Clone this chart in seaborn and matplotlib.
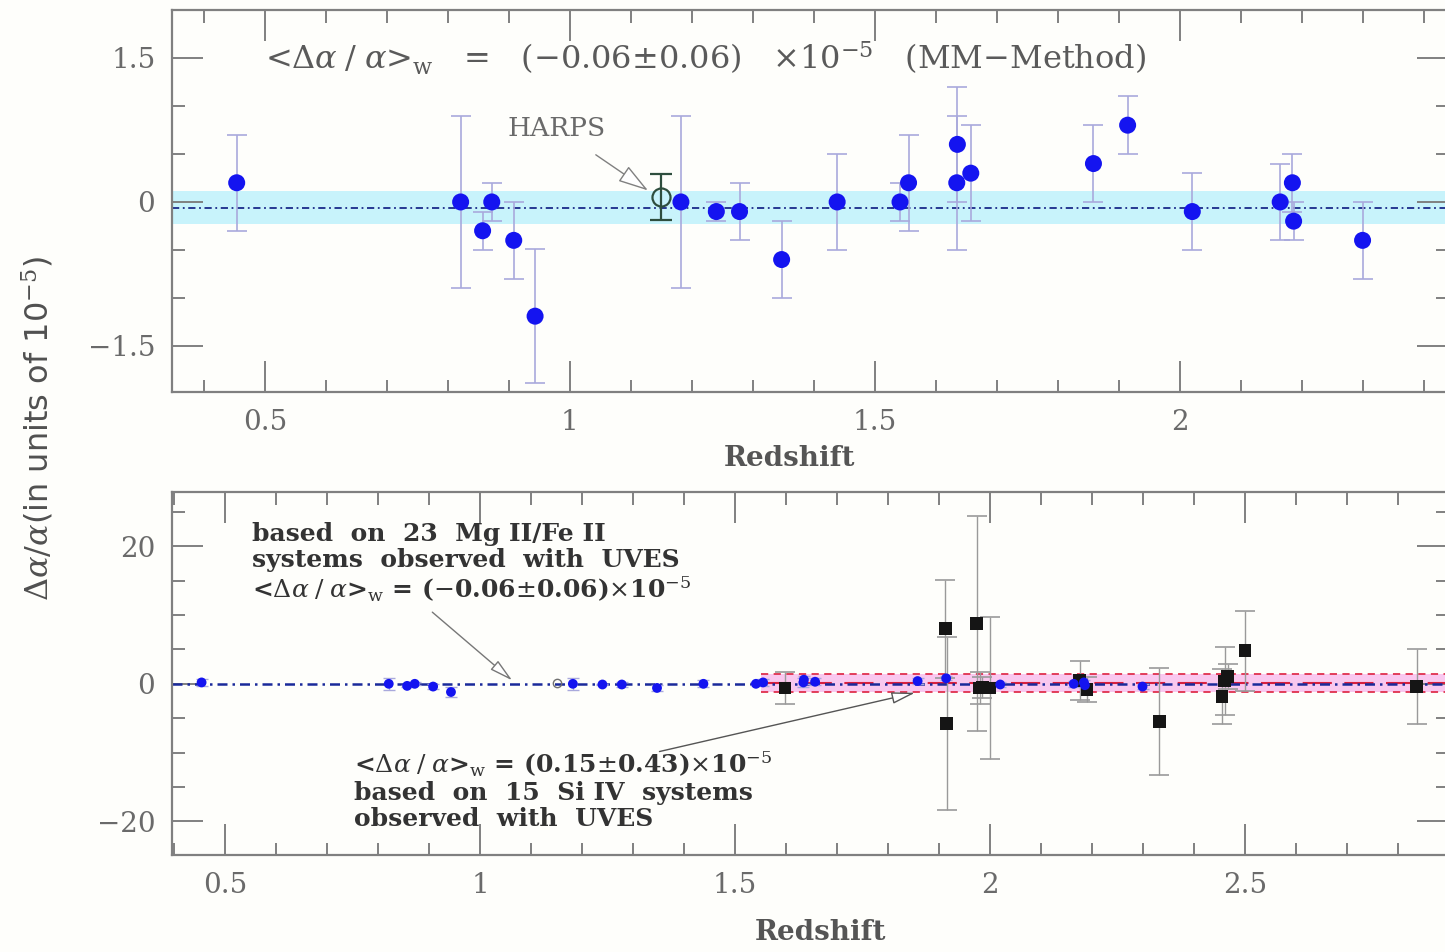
import matplotlib
matplotlib.use("Agg")
import matplotlib.pyplot as plt
from matplotlib.ticker import MultipleLocator, FixedLocator
import numpy as np
import pandas as pd
import seaborn as sns

# ---------------- data ----------------
# Mg II / Fe II systems (UVES, MM method)
z_mg = [0.454, 0.821, 0.857, 0.872, 0.908, 0.943, 1.182, 1.240, 1.278, 1.347,
        1.438, 1.541, 1.555, 1.634, 1.635, 1.657, 1.858, 1.914, 2.020, 2.164,
        2.184, 2.186, 2.299]
da_mg = [0.20, 0.00, -0.30, 0.00, -0.40, -1.19, 0.00, -0.10, -0.10, -0.60,
         0.00, 0.00, 0.20, 0.20, 0.60, 0.30, 0.40, 0.80, -0.10, 0.00,
         0.20, -0.20, -0.40]
err_mg = [0.50, 0.90, 0.20, 0.20, 0.40, 0.70, 0.90, 0.10, 0.30, 0.40,
          0.50, 0.20, 0.50, 0.70, 0.60, 0.50, 0.40, 0.30, 0.40, 0.40,
          0.30, 0.20, 0.40]

# HARPS point
z_harps = [1.150]
da_harps = [0.05]
err_harps = [0.24]

# Si IV systems (UVES, AD method)
z_si = [1.598, 1.912, 1.915, 1.974, 1.980, 1.985, 2.000, 2.176, 2.190, 2.332,
        2.455, 2.460, 2.466, 2.500, 2.837]
da_si = [-0.6, 8.0, -5.8, 8.8, -0.6, -0.5, -0.6, 0.5, -0.8, -5.5,
         -1.9, 0.4, 1.1, 4.8, -0.4]
err_si = [2.3, 7.1, 12.6, 15.6, 2.3, 1.5, 10.3, 2.8, 1.8, 7.8,
          4.0, 5.0, 1.8, 5.8, 5.4]

# weighted means
mean_mg, band_mg = -0.06, 0.17
mean_si, sig_si = 0.15, 0.43
z_si_band_start = 1.55

top_xticks = [0.5, 1, 1.5, 2]
top_xticklabels = ["0.5", "1", "1.5", "2"]
top_yticks = [-1.5, 0, 1.5]
top_yticklabels = ["\u22121.5", "0", "1.5"]
bot_xticks = [0.5, 1, 1.5, 2, 2.5]
bot_xticklabels = ["0.5", "1", "1.5", "2", "2.5"]
bot_yticks = [-20, 0, 20]
bot_yticklabels = ["\u221220", "0", "20"]

df_mg = pd.DataFrame({"z": z_mg, "da": da_mg, "err": err_mg})
df_si = pd.DataFrame({"z": z_si, "da": da_si, "err": err_si})
df_h = pd.DataFrame({"z": z_harps, "da": da_harps, "err": err_harps})

# ---------------- style ----------------
sns.set_theme(style="ticks")
plt.rcParams['font.family'] = ['DejaVu Serif']
plt.rcParams['mathtext.fontset'] = 'dejavuserif'

W, H = 1445, 952
fig = plt.figure(figsize=(W / 100, H / 100), dpi=100, facecolor="#fefefb")

def frac(x0, y0, x1, y1):
    return [x0 / W, 1 - y1 / H, (x1 - x0) / W, (y1 - y0) / H]

ax1 = fig.add_axes(frac(172, 10, 1448, 392))
ax2 = fig.add_axes(frac(172, 492, 1448, 855))

spine_c = "#808080"
tick_c = "#6a6a6a"
for ax in (ax1, ax2):
    ax.set_facecolor("#fefefb")
    for s in ax.spines.values():
        s.set_color(spine_c)
        s.set_linewidth(1.6)
    ax.tick_params(which="both", direction="in", top=True, right=True,
                   colors=spine_c, labelcolor=tick_c, labelsize=20, width=1.4)
    ax.tick_params(which="major", length=22, pad=12)
    ax.tick_params(which="minor", length=9)

# ---------------- top panel ----------------
ax1.set_xlim(0.348, 2.439)
ax1.set_ylim(-1.98, 2.0)
ax1.axhspan(mean_mg - band_mg, mean_mg + band_mg, color="#c8f3fb", zorder=0, lw=0)
ax1.axhline(mean_mg, color="#1a2a8a", lw=1.3, ls=(0, (4, 2, 1, 2)), zorder=1)

ax1.errorbar(df_mg["z"], df_mg["da"], yerr=df_mg["err"], fmt="none",
             ecolor="#a9a9dc", elinewidth=1.2, capsize=7, capthick=1.2, zorder=2)
sns.scatterplot(data=df_mg, x="z", y="da", ax=ax1, color="#1414f0", s=150,
                edgecolor="none", linewidth=0, zorder=4, legend=False)
ax1.errorbar(df_h["z"], df_h["da"], yerr=df_h["err"], fmt="o", mfc="none",
             mec="#2e4e3e", ms=13, mew=1.6, ecolor="#2e4e3e", elinewidth=1.6,
             capsize=8, capthick=1.6, zorder=5)

ax1.xaxis.set_major_locator(FixedLocator(top_xticks))
ax1.set_xticklabels(top_xticklabels)
ax1.xaxis.set_minor_locator(MultipleLocator(0.1))
ax1.yaxis.set_major_locator(FixedLocator(top_yticks))
ax1.set_yticklabels(top_yticklabels)
ax1.yaxis.set_minor_locator(MultipleLocator(0.5))
ax1.set_xlabel("Redshift", fontsize=20, color="#555555", fontweight="bold")
ax1.xaxis.set_label_coords(0.484, -0.14)
ax1.set_ylabel("")

ax1.text(0.073, 0.874,
         r"<$\Delta\alpha\;/\;\alpha$>$_{\rm w}$   =   ($-$0.06$\pm$0.06)   $\times$10$^{-5}$   (MM$-$Method)",
         transform=ax1.transAxes, fontsize=23, color="#5a5a5a", va="center", ha="left")
ax1.annotate("HARPS", xy=(1.128, 0.12), xycoords="data",
             xytext=(0.263, 0.691), textcoords="axes fraction",
             fontsize=19, color="#6a6a6a", va="center", ha="left",
             arrowprops=dict(arrowstyle="-|>,head_length=1.0,head_width=0.3",
                             color="#808080", lw=1.0, shrinkA=14, shrinkB=0,
                             fc="white"))

# ---------------- bottom panel ----------------
ax2.set_xlim(0.396, 2.898)
ax2.set_ylim(-24.9, 27.9)
ax2.fill_between([z_si_band_start, 2.898], mean_si - 3 * sig_si, mean_si + 3 * sig_si,
                 color="#f9c8ef", lw=0, zorder=0)
for yv in (mean_si - 3 * sig_si, mean_si + 3 * sig_si):
    ax2.plot([z_si_band_start, 2.898], [yv, yv], color="#e0304e", lw=1.3,
             ls=(0, (4, 3)), zorder=1)
ax2.plot([z_si_band_start, 2.898], [mean_si, mean_si], color="#d8203e", lw=1.5,
         ls=(0, (14, 6)), zorder=1)
ax2.axhline(mean_mg, color="#1a2a9a", lw=1.8, ls=(0, (4, 2, 1, 2)), zorder=2)

ax2.errorbar(df_si["z"], df_si["da"], yerr=df_si["err"], fmt="none",
             ecolor="#9a9a9a", elinewidth=1.0, capsize=7, capthick=1.2, zorder=3)
sns.scatterplot(data=df_si, x="z", y="da", ax=ax2, color="#151515", marker="s",
                s=85, edgecolor="none", linewidth=0, zorder=5, legend=False)
ax2.errorbar(df_mg["z"], df_mg["da"], yerr=df_mg["err"], fmt="none",
             ecolor="#a9a9dc", elinewidth=1.0, capsize=4, capthick=1.0, zorder=3)
sns.scatterplot(data=df_mg, x="z", y="da", ax=ax2, color="#1414f0", s=50,
                edgecolor="none", linewidth=0, zorder=6, legend=False)
ax2.plot(df_h["z"], df_h["da"], "o", mfc="none", mec="#707070", ms=6, mew=1.0, zorder=6)

ax2.xaxis.set_major_locator(FixedLocator(bot_xticks))
ax2.set_xticklabels(bot_xticklabels)
ax2.xaxis.set_minor_locator(MultipleLocator(0.1))
ax2.yaxis.set_major_locator(FixedLocator(bot_yticks))
ax2.set_yticklabels(bot_yticklabels)
ax2.yaxis.set_minor_locator(MultipleLocator(5))
ax2.set_xlabel("Redshift", fontsize=20, color="#555555", fontweight="bold")
ax2.xaxis.set_label_coords(0.508, -0.175)
ax2.set_ylabel("")

ax2.text(0.063, 0.918,
         "based  on  23  Mg II/Fe II\nsystems  observed  with  UVES\n"
         r"<$\Delta\alpha\;/\;\alpha$>$_{\rm w}$ = ($-$0.06$\pm$0.06)$\times$10$^{-5}$",
         transform=ax2.transAxes, fontsize=18, fontweight="bold", color="#333333",
         va="top", ha="left", linespacing=1.12)
ax2.annotate("", xy=(1.063, 0.5), xycoords="data",
             xytext=(0.204, 0.669), textcoords="axes fraction",
             arrowprops=dict(arrowstyle="-|>,head_length=1.2,head_width=0.3",
                             color="#777777", lw=1.0, shrinkA=0, shrinkB=0, fc="white"))

ax2.text(0.143, 0.292,
         r"<$\Delta\alpha\;/\;\alpha$>$_{\rm w}$ = (0.15$\pm$0.43)$\times$10$^{-5}$"
         "\nbased  on  15  Si IV  systems\nobserved  with  UVES",
         transform=ax2.transAxes, fontsize=18, fontweight="bold", color="#333333",
         va="top", ha="left", linespacing=1.12)
ax2.annotate("", xy=(1.853, -1.3), xycoords="data",
             xytext=(0.382, 0.285), textcoords="axes fraction",
             arrowprops=dict(arrowstyle="-|>,head_length=1.2,head_width=0.3",
                             color="#555555", lw=1.0, shrinkA=0, shrinkB=0, fc="white"))

# shared y label
fig.text(0.026, 0.55, r"$\Delta\alpha/\alpha$(in units of 10$^{-5}$)", rotation=90,
         fontsize=23, color="#505050", va="center", ha="center",
         family="DejaVu Sans")

fig.savefig("out.png", dpi=100, facecolor=fig.get_facecolor())
